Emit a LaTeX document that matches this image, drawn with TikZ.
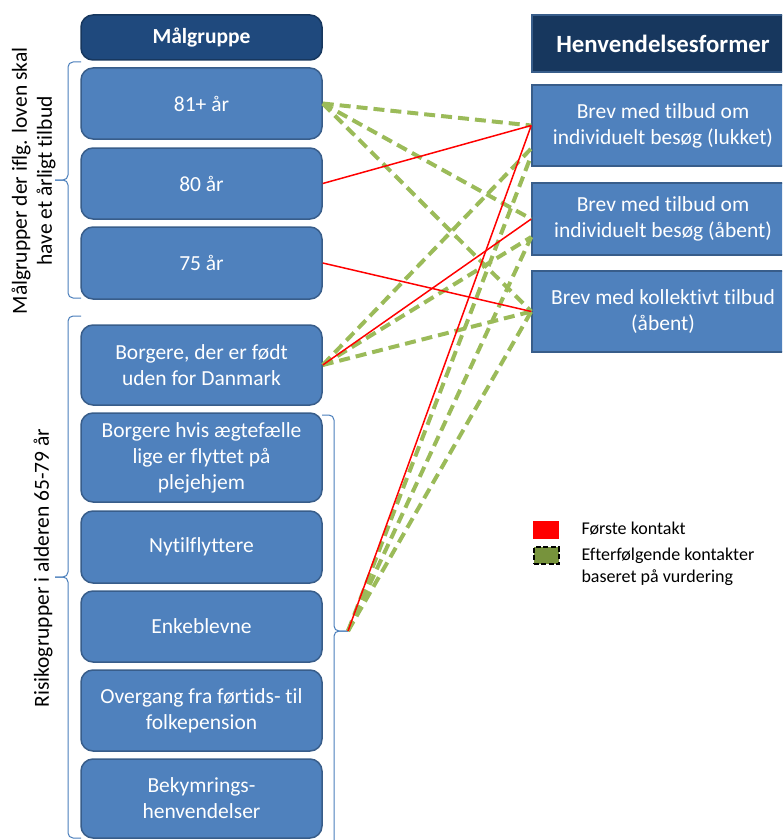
\documentclass[tikz,border=0pt]{standalone}
\usepackage{fontspec}
\setmainfont[Ligatures=NoCommon]{Carlito}
\usetikzlibrary{calc}
\definecolor{boxfill}{HTML}{4F81BD}
\definecolor{boxline}{HTML}{385D8A}
\definecolor{headA}{HTML}{1F497D}
\definecolor{headB}{HTML}{17375E}
\definecolor{gline}{HTML}{9BBB59}
\definecolor{olivec}{HTML}{77933C}
\definecolor{bracec}{HTML}{4A7EBB}
\begin{document}
\begin{tikzpicture}[x=1pt,y=-1pt,
 boxtext/.style={text=white, align=center, font=\fontsize{21.5}{26}\selectfont},
 lbox/.style={boxtext, draw=boxline, line width=1.5pt, fill=boxfill, rounded corners=12pt, minimum width=241pt, inner sep=0pt},
 rbox/.style={boxtext, draw=boxline, line width=1.5pt, fill=boxfill, minimum width=262pt, inner sep=0pt},
 first/.style={red, line width=1.5pt},
 later/.style={gline, line width=4pt, dash pattern=on 11pt off 6pt},
 bracel/.style={draw=bracec, line width=1pt, rounded corners=5pt},
 sidelabel/.style={rotate=90, align=center, font=\fontsize{21.5}{25}\selectfont},
 legtext/.style={anchor=west, align=left, font=\fontsize{18}{22}\selectfont}]
\useasboundingbox (0,0) rectangle (782,840);
\clip (0,0) rectangle (782,840);

% left column
\node[lbox, fill=headA, draw=headB, minimum height=45pt, font=\fontsize{21.5}{26}\selectfont\bfseries] (mg) at (201.5,37.5) {Målgruppe};
\node[lbox, minimum height=71pt] (a81) at (201.5,103.5) {81+ år};
\node[lbox, minimum height=71pt] (a80) at (201.5,183.5) {80 år};
\node[lbox, minimum height=72pt] (a75) at (201.5,263) {75 år};
\node[lbox, minimum height=80pt] (fod) at (201.5,365) {Borgere, der er født\\uden for Danmark};
\node[lbox, minimum height=89pt] (aeg) at (201.5,457.5) {Borgere hvis ægtefælle\\lige er flyttet på\\plejehjem};
\node[lbox, minimum height=72pt] (nyt) at (201.5,547) {Nytilflyttere};
\node[lbox, minimum height=71pt] (enk) at (201.5,626.5) {Enkeblevne};
\node[lbox, minimum height=81pt] (ove) at (201.5,710.5) {Overgang fra førtids- til\\folkepension};
\node[lbox, minimum height=79pt] (bek) at (201.5,798.5) {Bekymrings-\\henvendelser};

% right column
\node[rbox, fill=headB, draw=boxline, minimum height=57pt, font=\fontsize{24.8}{28}\selectfont\bfseries] (hf) at (663,43.5) {Henvendelsesformer};
\node[rbox, minimum height=81pt] (luk) at (663,125.5) {Brev med tilbud om\\individuelt besøg (lukket)};
\node[rbox, minimum height=72pt] (abn) at (663,219) {Brev med tilbud om\\individuelt besøg (åbent)};
\node[rbox, minimum height=81pt] (kol) at (663,311.5) {Brev med kollektivt tilbud\\(åbent)};

% braces
\draw[bracel] (81,62) -- (68,62) -- (68,180) -- (55,180);
\draw[bracel] (81,298) -- (68,298) -- (68,180) -- (55,180);
\draw[bracel] (81,316) -- (68,316) -- (68,577) -- (55,577);
\draw[bracel] (81,838) -- (68,838) -- (68,577) -- (55,577);
\draw[bracel] (322,415) -- (334,415) -- (334,631) -- (348,631);
\draw[bracel] (322,847) -- (334,847) -- (334,631) -- (348,631);
\coordinate (bt) at (348,631);

% side labels
\node[sidelabel] (lab1) at (33.5,181) {Målgrupper der iflg. loven skal\\have et årligt tilbud};
\node[sidelabel] (lab2) at (43,568) {Risikogrupper i alderen 65-79 år};

% connectors: later contacts
\draw[later] (a81.east) -- (luk.west);
\draw[later] (a81.east) -- (abn.west);
\draw[later] (a81.east) -- (kol.west);
\draw[later] (fod.east) -- ($(luk.west)+(0,23)$);
\draw[later] (fod.east) -- ($(abn.west)+(0,18)$);
\draw[later] (fod.east) -- (kol.west);
\draw[later] (bt) -- ($(luk.west)+(0,30)$);
\draw[later] (bt) -- ($(abn.west)+(0,18)$);
\draw[later] (bt) -- (kol.west);
% connectors: first contact
\draw[first] (a80.east) -- (luk.west);
\draw[first] (a75.east) -- (kol.west);
\draw[first] (fod.east) -- (abn.west);
\draw[first] (bt) -- (luk.west);

% legend
\node[fill=red, minimum width=26pt, minimum height=18pt, inner sep=0pt] (lr) at (546,530) {};
\node[fill=olivec, draw=black, line width=2pt, dash pattern=on 5pt off 2.5pt, minimum width=25pt, minimum height=17pt, inner sep=0pt] (lg) at (546,555.5) {};
\node[legtext] (lt1) at (578,529) {Første kontakt};
\node[legtext] (lt2) at (578,566.5) {Efterfølgende kontakter\\baseret på vurdering};
\end{tikzpicture}
\end{document}
